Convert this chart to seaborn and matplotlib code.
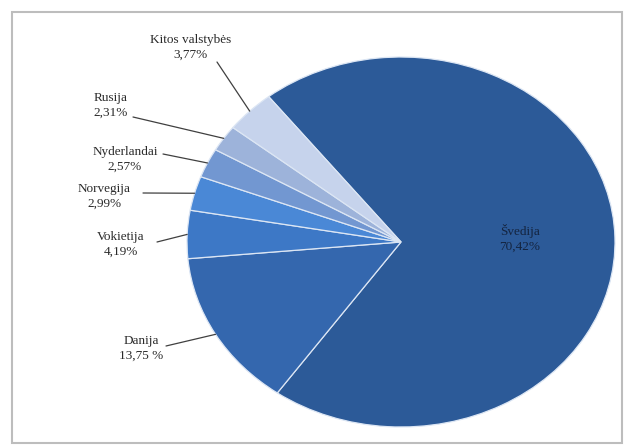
import matplotlib
matplotlib.use("Agg")
import matplotlib.pyplot as plt
import seaborn as sns
import numpy as np
from matplotlib.patches import Rectangle

# data (clockwise from Švedija)
countries = ["Švedija", "Danija", "Vokietija", "Norvegija", "Nyderlandai", "Rusija", "Kitos valstybės"]
shares = [70.42, 13.75, 4.19, 2.99, 2.57, 2.31, 3.77]
share_labels = ["70,42%", "13,75 %", "4,19%", "2,99%", "2,57%", "2,31%", "3,77%"]

colors = ["#2C5A98", "#3467AE", "#3D78C6", "#4A88D6", "#7297D1", "#9DB3DA", "#C6D3EC"]

sns.set_theme(style="white")
plt.rcParams["font.family"] = ["Liberation Serif", "DejaVu Serif"]

W, H = 627, 445
fig = plt.figure(figsize=(W / 100, H / 100), dpi=100)

# pie is an ellipse: centre (401, 242), radii 214 x 185 px (image coords)
cx, cy, rx, ry = 401, 242, 214, 185
ax = fig.add_axes([(cx - rx) / W, (H - cy - ry) / H, 2 * rx / W, 2 * ry / H])
wedges, _ = ax.pie(shares, colors=colors, startangle=128.2, counterclock=False,
                   radius=1, wedgeprops=dict(edgecolor="#DCE6F4", linewidth=0.9))
ax.set_xlim(-1, 1)
ax.set_ylim(-1, 1)
ax.set_aspect("auto")
ax.axis("off")

# label layout in image pixels: text centre and leader line start
text_pos = {
    "Danija": (141, 348), "Vokietija": (121, 244), "Norvegija": (104, 196),
    "Nyderlandai": (125, 159), "Rusija": (111, 105), "Kitos valstybės": (191, 47),
}
line_start = {
    "Danija": (166, 346), "Vokietija": (157, 242), "Norvegija": (143, 193),
    "Nyderlandai": (163, 154), "Rusija": (133, 117), "Kitos valstybės": (217, 62),
}

for w, name, lab in zip(wedges, countries, share_labels):
    if name == "Švedija":
        fig.text(520 / W, 1 - 238 / H, name + "\n" + lab, ha="center", va="center",
                 fontsize=9.5, color="#14243F", linespacing=1.3)
        continue
    mid = np.deg2rad((w.theta1 + w.theta2) / 2)
    edge = (np.cos(mid), np.sin(mid))
    sx, sy = line_start[name]
    ax.annotate("", xy=edge, xycoords="data",
                xytext=(sx, H - sy), textcoords="figure pixels",
                arrowprops=dict(arrowstyle="-", color="#404040", lw=0.9,
                                shrinkA=0, shrinkB=0))
    tx, ty = text_pos[name]
    fig.text(tx / W, 1 - ty / H, name + "\n" + lab, ha="center", va="center",
             fontsize=9.5, color="#2A2A2A", linespacing=1.3)

# chart frame
fig.patches.append(Rectangle((12 / W, 2 / H), 610 / W, 431 / H, transform=fig.transFigure,
                             fill=False, edgecolor="#BDBDBD", linewidth=1.5))

fig.savefig("out.png", dpi=100)
